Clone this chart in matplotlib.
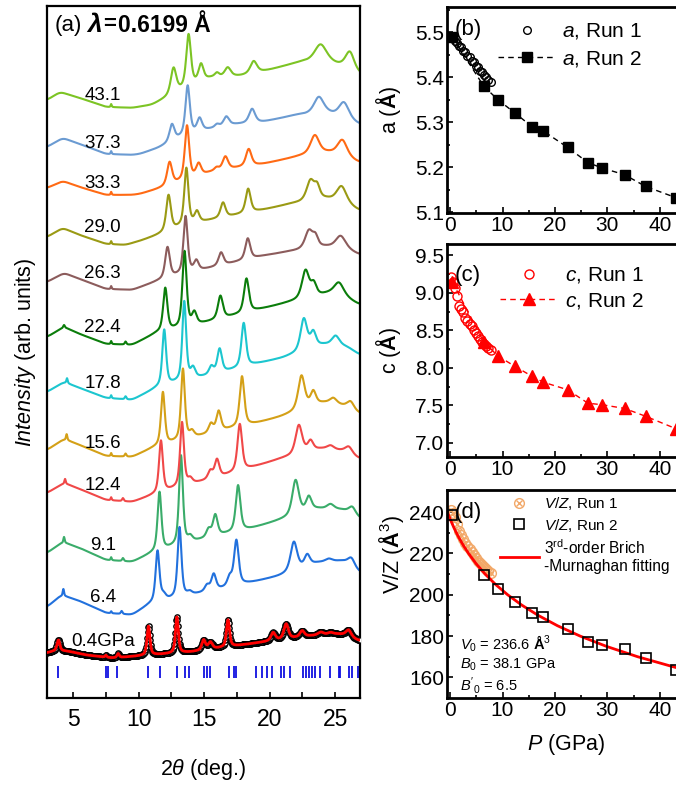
import numpy as np
import matplotlib
matplotlib.use("Agg")
import matplotlib.pyplot as plt
from matplotlib.ticker import MultipleLocator

plt.rcParams['font.family'] = ['Liberation Sans', 'DejaVu Sans']
plt.rcParams['mathtext.fontset'] = 'custom'
plt.rcParams['mathtext.rm'] = 'Liberation Sans'
plt.rcParams['mathtext.it'] = 'Liberation Sans:italic'
plt.rcParams['mathtext.bf'] = 'Liberation Sans:bold'

# ---------------- (a) XRD patterns ----------------
# labels and colours, bottom to top
xrd_labels = ['0.4GPa', '6.4', '9.1', '12.4', '15.6', '17.8', '22.4',
              '26.3', '29.0', '33.3', '37.3', '43.1']
xrd_colors = ['red', '#2271dd', '#3aac6a', '#f04848', '#d4a017', '#1cc6cf',
              '#0b7d0b', '#8c5c5c', '#9a9a14', '#ff6a14', '#6b9bd2', '#7cc424']

# background knots (2theta, intensity) and peaks (2theta, height, fwhm)
bg_04 = [(3.0, 47), (3.5, 49), (4.5, 49), (6.0, 45), (8.0, 42), (10.0, 44),
         (14.0, 48), (19.0, 57), (23.0, 64), (25.4, 66), (26.9, 59)]
pk_04 = [(3.87, 11, 0.26), (7.5, 2, 0.15), (8.43, 4, 0.2), (10.75, 29, 0.26),
         (12.92, 36, 0.26), (14.96, 10, 0.32), (15.47, 7, 0.38), (16.82, 27, 0.28),
         (20.27, 8, 0.4), (21.26, 15, 0.4), (22.48, 6, 0.4), (23.9, 3, 0.5),
         (24.65, 2, 0.5), (26.03, 7, 0.5)]

bg_64 = [(3.0, 93), (4.1, 105), (5.5, 99), (7.5, 87), (9.5, 85), (10.9, 96),
         (13.0, 102), (16.0, 110), (18.8, 118), (20.8, 124), (23.6, 137),
         (25.6, 139), (26.9, 127)]
pk_64 = [(4.25, 7, 0.12), (7.9, 2, 0.1), (8.7, 3, 0.15), (11.44, 51, 0.35),
         (11.9, 5, 0.42), (13.12, 70, 0.35), (13.9, 3, 0.42), (15.22, 6, 0.42),
         (15.73, 16, 0.42), (16.95, 9, 0.42), (17.46, 45, 0.42), (21.85, 29, 0.6),
         (22.87, 11, 0.5), (24.52, 3, 0.65), (26.24, 9, 0.65)]

bg_91 = [(3.0, 147), (4.2, 158), (5.5, 152), (7.5, 140), (9.5, 138), (10.9, 146),
         (13.5, 156), (16.0, 164), (18.5, 171), (21.1, 181), (23.6, 191),
         (25.6, 190), (26.9, 181)]
pk_91 = [(4.3, 6, 0.12), (7.9, 3, 0.1), (8.8, 3, 0.15), (11.59, 59, 0.35),
         (13.23, 89, 0.35), (13.94, 5, 0.42), (15.34, 8, 0.42), (15.85, 21, 0.42),
         (17.59, 46, 0.42), (21.98, 35, 0.6), (22.99, 14, 0.5), (24.65, 5, 0.65),
         (26.31, 8, 0.65)]

bg_124 = [(3.0, 207), (4.3, 217), (5.5, 211), (7.5, 200), (9.5, 198), (10.9, 204),
          (13.5, 214), (16.0, 222), (18.8, 233), (20.8, 241), (23.9, 251),
          (25.6, 249), (26.9, 241)]
pk_124 = [(4.38, 5, 0.12), (7.9, 3, 0.1), (8.8, 3, 0.15), (11.70, 52, 0.35),
          (13.31, 64, 0.35), (13.94, 5, 0.42), (15.47, 8, 0.42), (15.98, 18, 0.42),
          (17.72, 47, 0.42), (22.23, 29, 0.6), (23.12, 10, 0.5), (24.65, 4, 0.65),
          (26.05, 7, 0.65)]

bg_156 = [(3.0, 250), (4.3, 261), (5.5, 255), (7.5, 244), (9.5, 243), (11.1, 252),
          (13.5, 260), (16.0, 268), (18.8, 276), (20.8, 283), (24.1, 297),
          (25.6, 294), (26.9, 286)]
pk_156 = [(4.5, 6, 0.12), (7.9, 3, 0.1), (9.0, 3, 0.15), (11.85, 53, 0.35),
          (13.38, 71, 0.35), (14.07, 6, 0.42), (15.52, 9, 0.42), (16.11, 20, 0.42),
          (17.89, 50, 0.42), (22.43, 34, 0.6), (23.33, 14, 0.5), (24.86, 6, 0.65),
          (26.18, 8, 0.65)]

bg_178 = [(3.0, 308), (4.3, 318), (5.5, 312), (7.5, 302), (9.5, 300), (11.4, 312),
          (13.5, 319), (16.0, 326), (19.0, 336), (21.0, 342), (24.1, 355),
          (25.9, 353), (26.9, 345)]
pk_178 = [(4.53, 5, 0.12), (7.9, 3, 0.1), (9.0, 3, 0.15), (11.95, 56, 0.35),
          (13.48, 79, 0.35), (14.15, 10, 0.42), (15.55, 8, 0.42), (16.18, 24, 0.42),
          (18.02, 44, 0.42), (22.61, 32, 0.6), (23.33, 15, 0.5), (25.04, 10, 0.7)]

bg_224 = [(3.0, 363), (4.3, 373), (5.5, 366), (7.5, 356), (9.5, 355), (11.4, 367),
          (13.5, 372), (16.0, 380), (19.4, 391), (21.3, 397), (24.5, 406),
          (25.9, 401), (26.9, 395)]
pk_224 = [(4.3, 3, 0.15), (7.9, 3, 0.1), (9.0, 3, 0.15), (12.03, 43, 0.38),
          (13.50, 76, 0.38), (14.25, 12, 0.42), (16.24, 23, 0.45), (18.23, 34, 0.45),
          (22.74, 28, 0.65), (23.37, 12, 0.5), (25.29, 14, 0.9)]

bg_263 = [(3.0, 418), (4.3, 427), (5.5, 421), (7.5, 411), (9.5, 410), (11.5, 419),
          (13.5, 426), (15.2, 431), (19.5, 444), (21.3, 448), (24.3, 453),
          (25.9, 450), (26.9, 445)]
pk_263 = [(7.9, 3, 0.1), (12.20, 31, 0.42), (13.58, 57, 0.38), (14.40, 10, 0.42),
          (16.29, 13, 0.45), (18.33, 21, 0.45), (23.0, 18, 0.7), (23.5, 10, 0.5),
          (25.42, 13, 0.9)]

bg_290 = [(3.0, 463), (4.2, 472), (5.5, 465), (7.5, 456), (9.0, 455), (10.1, 459),
          (11.5, 465), (13.5, 474), (15.6, 480), (19.5, 490), (21.6, 496),
          (24.3, 501), (25.9, 495), (26.9, 489)]
pk_290 = [(7.9, 3, 0.1), (12.28, 36, 0.42), (13.64, 57, 0.38), (14.45, 11, 0.42),
          (16.44, 15, 0.45), (18.36, 24, 0.45), (23.12, 20, 0.7), (23.63, 12, 0.5),
          (25.49, 17, 0.9)]

bg_333 = [(3.0, 512), (4.2, 519), (5.5, 513), (7.5, 505), (9.5, 505), (10.1, 506),
          (11.5, 511), (13.5, 519), (15.6, 528), (18.0, 533), (19.55, 536),
          (22.4, 544), (24.5, 547), (26.0, 541), (26.9, 537)]
pk_333 = [(7.9, 3, 0.1), (12.36, 23, 0.45), (13.69, 54, 0.4), (14.58, 12, 0.45),
          (15.95, 3, 0.4), (16.62, 13, 0.5), (18.40, 17, 0.5), (23.45, 19, 0.8),
          (25.55, 17, 0.9)]

bg_373 = [(3.0, 553), (4.2, 562), (5.5, 556), (7.5, 546), (9.5, 545), (10.1, 546),
          (11.5, 552), (13.5, 564), (15.2, 570), (17.0, 575), (19.5, 578),
          (22.1, 585), (24.5, 586), (26.0, 580), (26.9, 575)]
pk_373 = [(7.9, 3, 0.1), (12.54, 17, 0.45), (13.74, 49, 0.4), (14.65, 13, 0.45),
          (15.98, 3, 0.4), (16.69, 9, 0.5), (18.66, 14, 0.55), (23.76, 17, 0.9),
          (25.67, 16, 0.9)]

bg_431 = [(3.0, 600), (4.0, 608), (5.5, 602), (7.5, 593), (9.5, 592), (11.0, 595),
          (12.3, 603), (13.5, 611), (15.5, 622), (17.8, 624), (20.0, 630),
          (21.5, 635), (22.5, 638), (24.5, 637), (26.0, 632), (26.9, 625)]
pk_431 = [(7.9, 3, 0.1), (12.66, 26, 0.5), (13.81, 52, 0.42), (14.76, 17, 0.45),
          (15.98, 4, 0.4), (16.80, 9, 0.55), (18.78, 12, 0.6), (23.89, 18, 1.1),
          (26.13, 17, 0.8)]

backgrounds = [bg_04, bg_64, bg_91, bg_124, bg_156, bg_178, bg_224,
               bg_263, bg_290, bg_333, bg_373, bg_431]
peak_lists = [pk_04, pk_64, pk_91, pk_124, pk_156, pk_178, pk_224,
              pk_263, pk_290, pk_333, pk_373, pk_431]
# height at which each pressure label sits (same intensity units)
label_levels = [59, 102, 155, 214, 257, 317, 372, 427, 472, 517, 557, 605]

# Bragg reflection positions (2theta) for the 0.4 GPa refinement
bragg = [3.87, 7.51, 7.68, 8.38, 10.75, 11.65, 12.92, 13.56, 13.81, 14.96,
         15.22, 15.47, 16.87, 17.25, 17.46, 18.99, 19.43, 19.81, 20.19, 20.83,
         21.13, 21.54, 22.56, 22.81, 22.99, 23.25, 23.50, 23.83, 24.59, 25.28,
         25.41, 26.05, 26.31, 26.74]

# ---------------- (b)-(d) lattice parameters ----------------
p_run1 = [0.1, 0.5, 0.9, 1.3, 1.7, 2.1, 2.5, 2.9, 3.3, 3.7, 4.1, 4.5, 4.9,
          5.3, 5.7, 6.1, 6.5, 6.9, 7.3, 7.7]
a_run1 = [5.492, 5.488, 5.480, 5.477, 5.469, 5.466, 5.458, 5.455, 5.447, 5.444,
          5.437, 5.433, 5.425, 5.423, 5.414, 5.412, 5.404, 5.401, 5.393, 5.389]
c_run1 = [9.21, 9.15, 9.07, 8.96, 8.83, 8.79, 8.74, 8.66, 8.62, 8.59,
          8.56, 8.51, 8.47, 8.42, 8.39, 8.35, 8.32, 8.29, 8.27, 8.24]
v_run1 = [241.0, 239.5, 237.5, 234.0, 231.0, 229.0, 227.0, 225.0, 223.5, 222.0,
          220.5, 219.0, 218.0, 216.5, 215.5, 214.5, 213.5, 212.5, 211.5, 210.5]

p_run2 = [0.4, 6.4, 9.1, 12.4, 15.6, 17.8, 22.4, 26.3, 29.0, 33.3, 37.3, 43.1]
a_run2 = [5.49, 5.38, 5.35, 5.32, 5.29, 5.28, 5.244, 5.21, 5.198, 5.183, 5.157, 5.132]
c_run2 = [9.15, 8.35, 8.16, 8.02, 7.89, 7.81, 7.71, 7.53, 7.51, 7.46, 7.356, 7.19]
v_run2 = [238.7, 209.6, 202.8, 196.7, 191.2, 189.1, 183.5, 177.0, 175.9, 173.8, 169.4, 163.7]

# 3rd-order Birch-Murnaghan fitting curve, read as (P, V/Z) pairs
fit_p = [-0.80, -0.52, 0.0, 0.80, 1.59, 2.49, 3.51, 4.96, 6.67, 8.65, 10.96,
         13.65, 16.80, 20.47, 24.78, 29.82, 35.75, 42.72, 44.3]
fit_v = [242, 240, 236.6, 232, 228, 224, 220, 215, 210, 205, 200,
         195, 190, 185, 180, 175, 170, 165, 164]


def pattern(tt, bg, peaks):
    knots = np.array(bg, dtype=float)
    y = np.interp(tt, knots[:, 0], knots[:, 1])
    step = tt[1] - tt[0]
    n = 40
    kern = np.exp(-0.5 * (np.arange(-n, n + 1) * step / 0.25) ** 2)
    kern /= kern.sum()
    y = np.convolve(np.pad(y, n, mode='edge'), kern, mode='valid')
    for c, h, w in peaks:
        u = (tt - c) / w
        y = y + h * (0.6 / (1 + 4 * u ** 2) + 0.4 * np.exp(-4 * np.log(2) * u ** 2))
    return y


W, H = 676, 787
fig = plt.figure(figsize=(W / 100, H / 100), dpi=100)


def box(l, t, r, b):
    return [l / W, 1 - b / H, (r - l) / W, (b - t) / H]


# ---------- panel (a) ----------
ax = fig.add_axes(box(47, 6, 360, 698))
tt = np.arange(3.0, 26.9, 0.01)
for i, (bg, pk, col, lab) in enumerate(zip(backgrounds, peak_lists, xrd_colors, xrd_labels)):
    y = pattern(tt, bg, pk)
    if i == 0:
        ax.plot(tt[::4], y[::4], 'o', mfc='white', mec='black', ms=3.8, mew=1.0, zorder=3)
        ax.plot(tt, y, color='red', lw=2.0, zorder=4)
    else:
        ax.plot(tt, y, color=col, lw=1.5)
    ax.text(7.25, label_levels[i], lab, fontsize=13.5, ha='center', va='center')

ax.plot(bragg, np.full(len(bragg), 28), '|', color='#1010e0', ms=8, mew=1.3)
ax.set_xlim(3, 26.9)
ax.set_ylim(2, 694)
ax.set_yticks([])
ax.xaxis.set_major_locator(MultipleLocator(5))
ax.xaxis.set_minor_locator(MultipleLocator(2.5))
ax.tick_params(axis='x', which='both', direction='in', length=4, width=1.2,
               labelsize=16.5, pad=7)
for s in ax.spines.values():
    s.set_linewidth(1.6)
ax.set_xlabel(r'2$\mathit{\theta}$ (deg.)', fontsize=15.5)
ax.xaxis.set_label_coords(0.5, -0.085)
ax.set_ylabel(r'$\mathit{Intensity}$ (arb. units)', fontsize=15.5)
ax.yaxis.set_label_coords(-0.03, 0.5)

fig.text(55 / W, 1 - 25 / H, '(a)', fontsize=16, va='center')
fig.text(87 / W, 1 - 25 / H, 'λ', fontsize=19, va='center', weight='bold', style='italic')
fig.text(103 / W, 1 - 25 / H, '=', fontsize=16, va='center', weight='bold')
fig.text(118 / W, 1 - 25 / H, '0.6199 Å', fontsize=16.5, va='center', weight='bold')


def style_right(a):
    for s in a.spines.values():
        s.set_linewidth(2.0)
    a.set_xlim(-0.6, 45)
    a.xaxis.set_major_locator(MultipleLocator(10))
    a.xaxis.set_minor_locator(MultipleLocator(5))
    a.tick_params(which='both', direction='in', width=1.2, labelsize=15, pad=2)
    a.tick_params(which='major', length=4)
    a.tick_params(which='minor', length=2.5)


# ---------- panel (b) ----------
axb = fig.add_axes(box(447, 7, 686, 213))
h2, = axb.plot(p_run2, a_run2, 's', ls=(0, (4, 3)), color='black', ms=6.5, lw=1,
               label=r'$\mathit{a}$, Run 2')
h1, = axb.plot(p_run1, a_run1, 'o', mfc='none', mec='black', ms=5.5, mew=1,
               label=r'$\mathit{a}$, Run 1')
style_right(axb)
axb.set_ylim(5.098, 5.556)
axb.yaxis.set_major_locator(MultipleLocator(0.1))
axb.yaxis.set_minor_locator(MultipleLocator(0.05))
axb.set_ylabel(r'a ($\mathbf{Å}$)', fontsize=15.5)
axb.yaxis.set_label_coords(-0.185, 0.5)
axb.text(0.03, 0.89, '(b)', transform=axb.transAxes, fontsize=16, va='center')
axb.legend(handles=[h1, h2], loc='upper left', bbox_to_anchor=(0.213, 0.93),
           frameon=False, fontsize=15, handlelength=2.8, handletextpad=0.3,
           labelspacing=0.35, borderpad=0, borderaxespad=0)

# ---------- panel (c) ----------
axc = fig.add_axes(box(447, 244, 686, 457))
g2, = axc.plot(p_run2, c_run2, '^', ls=(0, (4, 3)), color='red', ms=8, lw=1,
               label=r'$\mathit{c}$, Run 2')
g1, = axc.plot(p_run1, c_run1, 'o', mfc='none', mec='red', ms=6.5, mew=1,
               label=r'$\mathit{c}$, Run 1')
style_right(axc)
axc.set_ylim(6.813, 9.653)
axc.yaxis.set_major_locator(MultipleLocator(0.5))
axc.yaxis.set_minor_locator(MultipleLocator(0.25))
axc.yaxis.set_major_formatter(plt.FormatStrFormatter('%.1f'))
axc.set_ylabel(r'c ($\mathbf{Å}$)', fontsize=15.5)
axc.yaxis.set_label_coords(-0.185, 0.5)
axc.text(0.03, 0.85, '(c)', transform=axc.transAxes, fontsize=16, va='center')
axc.legend(handles=[g1, g2], loc='upper left', bbox_to_anchor=(0.222, 0.90),
           frameon=False, fontsize=15, handlelength=2.8, handletextpad=0.3,
           labelspacing=0.25, borderpad=0, borderaxespad=0)

# ---------- panel (d) ----------
axd = fig.add_axes(box(447, 490, 686, 698))
orange = '#f2a868'
k1, = axd.plot(p_run1, v_run1, 'o', mfc='none', mec=orange, ms=7, mew=1)
k2, = axd.plot(p_run1, v_run1, 'x', color=orange, ms=5, mew=1)
fl, = axd.plot(fit_p, fit_v, color='red', lw=2)
k3, = axd.plot(p_run2, v_run2, 's', mfc='none', mec='black', ms=7, mew=1.2)
style_right(axd)
axd.set_ylim(150, 250.7)
axd.yaxis.set_major_locator(MultipleLocator(20))
axd.yaxis.set_minor_locator(MultipleLocator(10))
axd.set_ylabel(r'V/Z ($\mathbf{Å}^3$)', fontsize=15.5)
axd.yaxis.set_label_coords(-0.17, 0.69)
axd.set_xlabel(r'$\mathit{P}$ (GPa)', fontsize=15.5)
axd.xaxis.set_label_coords(0.5, -0.165)
axd.text(0.03, 0.89, '(d)', transform=axd.transAxes, fontsize=16, va='center')
leg = axd.legend(handles=[(k1, k2), k3, fl],
                 labels=[r'$\mathit{V/Z}$, Run 1', r'$\mathit{V/Z}$, Run 2',
                         '3$^{\\rm rd}$-order Brich\n-Murnaghan fitting'],
                 loc='upper left', bbox_to_anchor=(0.22, 0.975), frameon=False,
                 fontsize=11, handlelength=2.6, handletextpad=0.3,
                 labelspacing=0.3, borderpad=0, borderaxespad=0)
leg.get_texts()[2].set_fontsize(11.2)
axd.text(0.055, 0.26, r'$\mathit{V_0}$ = 236.6 $\mathbf{Å}^3$', transform=axd.transAxes,
         fontsize=10.5, va='center')
axd.text(0.055, 0.16, r'$\mathit{B_0}$ = 38.1 GPa', transform=axd.transAxes,
         fontsize=10.5, va='center')
axd.text(0.055, 0.06, r"$\mathit{B'_0}$ = 6.5", transform=axd.transAxes,
         fontsize=10.5, va='center')

fig.savefig('out.png', dpi=100)
